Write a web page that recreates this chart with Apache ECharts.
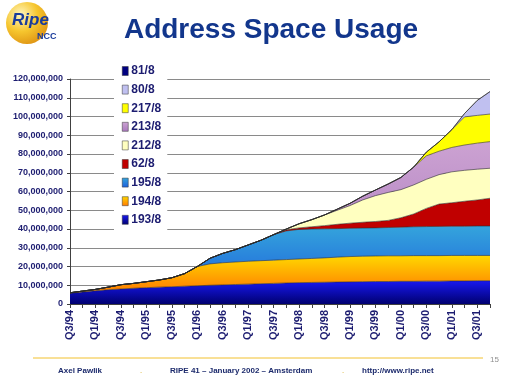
<!DOCTYPE html>
<html><head><meta charset="utf-8">
<script src="https://cdn.jsdelivr.net/npm/echarts@6/dist/echarts.min.js"></script>
<style>html,body{margin:0;padding:0;background:#fff}#c{width:512px;height:384px}</style>
</head><body><div id="c"></div>
<script>
// Quarterly categories (labels as printed on the slide)
const categories = ["Q3/94","Q4/93","Q1/94","Q2/94","Q3/94","Q4/94","Q1/95","Q2/95","Q3/95","Q4/95",
  "Q1/96","Q2/96","Q3/96","Q4/96","Q1/97","Q2/97","Q3/97","Q4/97","Q1/98","Q2/98",
  "Q3/98","Q4/98","Q1/99","Q2/99","Q3/99","Q4/99","Q1/00","Q2/00","Q3/00","Q4/00",
  "Q1/01","Q2/01","Q3/01","Q4/01"];
// values in millions of addresses
const s193 = [5.7,6.4,7.1,7.6,8.0,8.4,8.7,9.0,9.2,9.5,9.7,10.0,10.2,10.4,10.6,10.8,11.0,11.2,11.4,11.5,11.6,11.7,11.8,11.9,12.0,12.0,12.1,12.1,12.2,12.2,12.3,12.3,12.4,12.4];
const s194 = [0.3,0.5,0.7,1.4,2.3,2.6,3.2,3.8,4.8,6.7,10.3,11.4,11.8,12.0,12.2,12.3,12.4,12.5,12.6,12.8,13.0,13.3,13.5,13.6,13.6,13.7,13.6,13.7,13.6,13.6,13.6,13.6,13.5,13.5];
const s195 = [0,0,0,0,0,0,0,0,0,0,0,3.0,5.0,6.6,8.7,10.9,13.6,15.3,15.8,15.7,15.5,15.2,15.1,15.0,15.0,15.1,15.3,15.4,15.5,15.6,15.6,15.6,15.7,15.7];
const s62  = [0,0,0,0,0,0,0,0,0,0,0,0,0,0,0,0,0,0.6,0.8,1.2,1.7,2.3,2.7,3.1,3.4,3.8,5.0,6.8,9.7,11.9,12.5,13.3,13.9,14.8];
const s212 = [0,0,0,0,0,0,0,0,0,0,0,0,0,0,0,0,0,0.4,2.2,3.8,5.7,7.5,9.4,11.9,13.8,14.9,15.0,15.5,15.5,15.7,16.5,16.5,16.4,16.0];
const s213 = [0,0,0,0,0,0,0,0,0,0,0,0.0,0,0,0,0,0,0,0,0,0,0.6,1.2,2.0,3.0,4.5,6.5,9.5,12.5,12.5,13.0,13.5,13.9,14.2];
const s217 = [0,0,0,0,0,0,0,0,0,0,0,0,0,0,0,0,0,0,0,0,0,0,0,0,0,0,0,0,2.0,5.0,9.5,15.0,14.8,14.7];
const s80  = [0,0,0,0,0,0,0,0,0,0,0,0,0,0,0,0,0,0,0,0,0,0,0,0,0,0,0,0,0,0,0,1.8,8.0,12.0];
const s81  = [0,0,0,0,0,0,0,0,0,0,0,0,0,0,0,0,0,0,0,0,0,0,0,0,0,0,0,0,0,0,0,0,0,0];
const seriesNames = ["193/8","194/8","195/8","62/8","212/8","213/8","217/8","80/8","81/8"];
const seriesData = [s193,s194,s195,s62,s212,s213,s217,s80,s81];
const legendOrder = ["81/8","80/8","217/8","213/8","212/8","62/8","195/8","194/8","193/8"];

const G = echarts.graphic.LinearGradient;
const fills = [
  new G(0,0,0,1,[{offset:0,color:'#1818F0'},{offset:1,color:'#000070'}]),
  new G(0,0,0,1,[{offset:0,color:'#FFD800'},{offset:1,color:'#FF7A00'}]),
  new G(0,0,0,1,[{offset:0,color:'#34A4DC'},{offset:1,color:'#1E60DC'}]),
  '#C00000',
  '#FFFFC0',
  new G(0,0,0,1,[{offset:0,color:'#CCA2D2'},{offset:1,color:'#A878BC'}]),
  '#FFFF00',
  '#C0C0F0',
  '#000080'
];
const NAVY = '#1c1c70';
const SANS = "'Liberation Sans',Arial,sans-serif";

const chart = echarts.init(document.getElementById('c'), null, {renderer:'canvas'});
chart.setOption({
  animation:false,
  backgroundColor:'#fff',
  grid:{left:70,right:22,top:79,bottom:80,containLabel:false},
  legend:{
    data:legendOrder, orient:'vertical', left:114, top:60,
    icon:'rect', itemWidth:6, itemHeight:9, itemGap:6.6,
    backgroundColor:'#fff', padding:[5,6,5,8],
    itemStyle:{borderColor:'#333',borderWidth:0.5},
    textStyle:{color:NAVY,fontSize:12,fontWeight:'bold',fontFamily:SANS,lineHeight:12,padding:[0,0,0,-2]}
  },
  xAxis:{
    type:'category', data:categories, boundaryGap:false,
    axisLine:{lineStyle:{color:'#404040',width:1}},
    axisTick:{show:true,interval:0,length:4,lineStyle:{color:'#404040'}},
    axisLabel:{interval:1,rotate:90,margin:6,color:NAVY,fontSize:11,fontWeight:'bold',fontFamily:SANS},
    splitLine:{show:false}
  },
  yAxis:{
    type:'value', min:0, max:120, interval:10,
    axisLine:{show:true,lineStyle:{color:'#404040',width:1}},
    axisTick:{show:true,length:3,lineStyle:{color:'#404040'}},
    axisLabel:{margin:7,color:NAVY,fontSize:9,fontWeight:'bold',fontFamily:SANS,
      formatter:v=>(v*1000000).toLocaleString('en-US')},
    splitLine:{show:true,lineStyle:{color:'#8a8a8a',width:1}}
  },
  series:seriesNames.map((n,i)=>({
    name:n, type:'line', stack:'all', data:seriesData[i],
    symbol:'none', showSymbol:false, smooth:false,
    color:fills[i],
    itemStyle:{color:fills[i]},
    lineStyle:{color:'#2a2a2a',width:0.6},
    areaStyle:{color:fills[i],opacity:1}
  })),
  graphic:[
    {type:'circle',shape:{cx:27,cy:23,r:21},style:{fill:new echarts.graphic.RadialGradient(0.35,0.3,0.8,[{offset:0,color:'#FFF6C0'},{offset:0.5,color:'#F6C62E'},{offset:1,color:'#DC8E10'}])}},
    {type:'text',left:12,top:12,style:{text:'Ripe',font:'italic bold 17px '+SANS,fill:'#1a3c9c'}},
    {type:'text',left:37,top:32,style:{text:'NCC',font:'bold 9px '+SANS,fill:'#1a3c9c'}},
    {type:'text',x:271,y:30,style:{text:'Address Space Usage',font:'bold 28px '+SANS,fill:'#12368C',align:'center',verticalAlign:'middle'}},
    {type:'line',shape:{x1:33,y1:358,x2:483,y2:358},style:{stroke:'#F2C12E',lineWidth:1}},
    {type:'text',x:490,y:360,style:{text:'15',font:'8px '+SANS,fill:'#909090',verticalAlign:'middle'}},
    {type:'text',x:58,y:371,style:{text:'Axel Pawlik',font:'bold 8px '+SANS,fill:'#1c2a6c',verticalAlign:'middle'}},
    {type:'text',x:140,y:371,style:{text:'.',font:'bold 8px '+SANS,fill:'#E8D080',verticalAlign:'middle'}},
    {type:'text',x:170,y:371,style:{text:'RIPE 41 – January 2002 – Amsterdam',font:'bold 8px '+SANS,fill:'#1c2a6c',verticalAlign:'middle'}},
    {type:'text',x:342,y:371,style:{text:'.',font:'bold 8px '+SANS,fill:'#E8D080',verticalAlign:'middle'}},
    {type:'text',x:362,y:371,style:{text:'http://www.ripe.net',font:'bold 8px '+SANS,fill:'#1c2a6c',verticalAlign:'middle'}}
  ]
});
</script></body></html>
